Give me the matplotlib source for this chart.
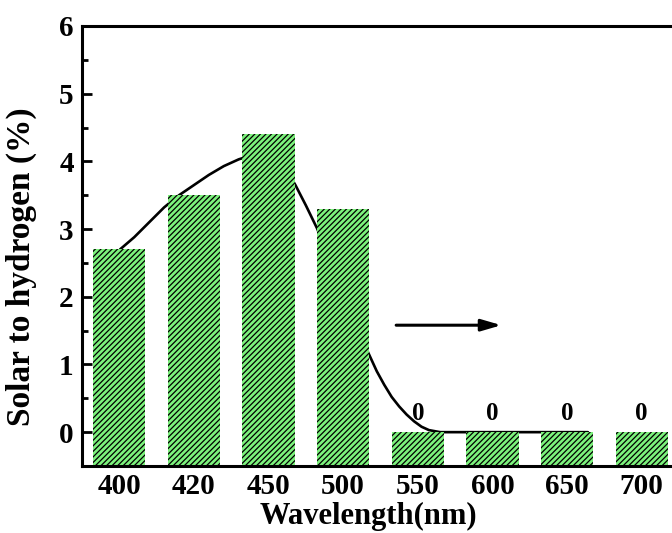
import matplotlib
matplotlib.use("Agg")
import matplotlib.pyplot as plt
import numpy as np

# Data
categories = ["400", "420", "450", "500", "550", "600", "650", "700"]
sth_values = [2.7, 3.5, 4.4, 3.3, 0.0, 0.0, 0.0, 0.0]
zero_label_idx = [4, 5, 6, 7]

# Trend curve (category-index coordinates)
curve_x = [0.01, 0.2, 0.4, 0.6, 0.8, 1.0, 1.2, 1.4, 1.6, 1.8, 2.0, 2.2, 2.36, 2.5, 2.65,
           2.8, 3.0, 3.2, 3.35, 3.45, 3.55, 3.65, 3.75, 3.85, 3.95, 4.05, 4.15, 4.3, 6.28]
curve_y = [2.70, 2.88, 3.10, 3.32, 3.50, 3.65, 3.80, 3.93, 4.03, 4.10, 4.12, 3.95, 3.65, 3.35, 3.01,
           2.60, 2.00, 1.50, 1.14, 0.90, 0.70, 0.52, 0.38, 0.26, 0.16, 0.08, 0.03, 0.0, 0.0]

plt.rcParams['font.family'] = ['Liberation Serif', 'DejaVu Serif']
plt.rcParams['font.weight'] = 'bold'
plt.rcParams['hatch.linewidth'] = 0.9

fig = plt.figure(figsize=(6.72, 5.33), dpi=100)
ax = fig.add_axes([82/672, 1-466/533, (679-82)/672, (466-26)/533])

x = np.arange(len(categories))
base = -0.5

# curve behind bars
ax.plot(curve_x, curve_y, color='black', lw=1.9, zorder=1,
        solid_capstyle='round', solid_joinstyle='round')

heights = [v - base for v in sth_values]
ax.bar(x, heights, bottom=base, width=0.70, color='#7CF27C', edgecolor='black',
       hatch='//////', linewidth=0, zorder=2)

for i in zero_label_idx:
    ax.text(x[i], sth_values[i] + 0.28, "0", ha='center', va='center',
            fontsize=18, fontweight='bold', zorder=3)

ax.annotate("", xy=(5.12, 1.58), xytext=(3.71, 1.58),
            arrowprops=dict(arrowstyle='-|>,head_length=1.2,head_width=0.35',
                            color='black', lw=2.2, shrinkA=0, shrinkB=0), zorder=3)

ax.set_xlim(-0.5, 7.5)
ax.set_ylim(-0.5, 6)
ax.set_xticks(x)
ax.set_xticklabels(categories)
ax.set_yticks([0, 1, 2, 3, 4, 5, 6])
ax.set_yticks(np.arange(0.5, 6, 1.0), minor=True)

ax.tick_params(axis='x', length=0, pad=5, labelsize=21)
ax.tick_params(axis='y', which='major', direction='in', length=7, width=2, pad=6, labelsize=21)
ax.tick_params(axis='y', which='minor', direction='in', length=4, width=2)

for lab in ax.get_xticklabels() + ax.get_yticklabels():
    lab.set_fontweight('bold')

for s in ax.spines.values():
    s.set_linewidth(2.2)

ax.set_xlabel("Wavelength(nm)", fontsize=22, fontweight='bold')
ax.xaxis.set_label_coords(0.479, -0.082)
ax.set_ylabel("Solar to hydrogen (%)", fontsize=24, fontweight='bold')
ax.yaxis.set_label_coords(-0.076, 0.452)

fig.savefig("out.png", dpi=100)
